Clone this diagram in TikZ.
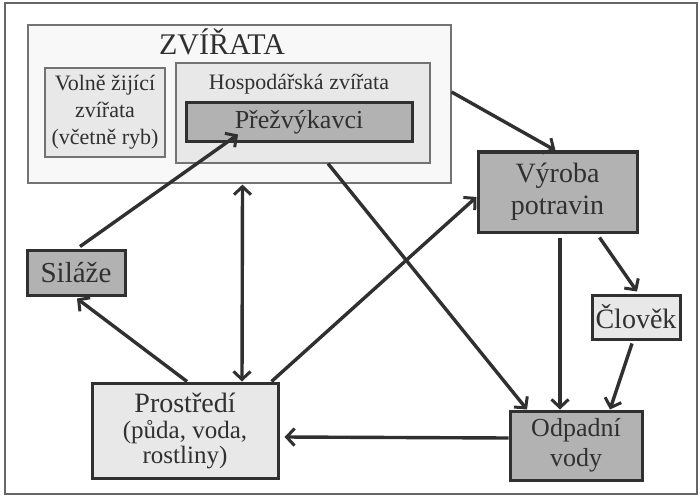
\documentclass[tikz,border=0pt]{standalone}
\usepackage{fontspec}
\setmainfont{Liberation Serif}
\usetikzlibrary{arrows.meta}
\definecolor{ink}{HTML}{303030}
\definecolor{dark}{HTML}{B2B2B2}
\definecolor{light}{HTML}{E8E8E8}
\definecolor{pale}{HTML}{F8F8F8}
\tikzset{
  fs/.style={font=\fontsize{#1}{#1}\selectfont},
  thinbox/.style={draw=black!55, line width=1.2pt, inner sep=0pt},
  boldbox/.style={draw=ink, line width=3pt, inner sep=0pt, align=center, text=ink},
  arr/.style={draw=ink, line width=3.4pt, -{Straight Barb[length=8pt,width=17pt,line width=3pt]}},
  darr/.style={draw=ink, line width=3.4pt, {Straight Barb[length=8pt,width=17pt,line width=3pt]}-{Straight Barb[length=8pt,width=17pt,line width=3pt]}}
}
\begin{document}
\begin{tikzpicture}[x=1pt,y=-1pt]
\useasboundingbox (0,0) rectangle (700,497);
\fill[white] (0,0) rectangle (700,497);
\draw[black!60, line width=1.4pt] (5,3) rectangle (697,494);

% ZVIRATA group
\node[thinbox, fill=pale, minimum width=423pt, minimum height=158pt] (zv) at (239.5,104) {};
\node[anchor=base, fs=30, text=ink] (zvt) at (222,55) {ZVÍŘATA};
\node[thinbox, fill=light, minimum width=120pt, minimum height=89pt] (vo) at (105,112.5) {};
\node[text=ink, align=center, inner sep=0pt, font=\fontsize{22}{27}\selectfont] (vot) at (105,112) {Volně žijící\\zvířata\\(včetně ryb)};
\node[thinbox, fill=light, minimum width=254pt, minimum height=100pt] (ho) at (303,113) {};
\node[anchor=base, fs=22, text=ink] (hot) at (299,90) {Hospodářská zvířata};
\node[boldbox, fill=dark, minimum width=226pt, minimum height=39pt, fs=26] (pr) at (299,122.5) {Přežvýkavci};

% other nodes
\node[boldbox, fill=light, minimum width=186pt, minimum height=95pt] (pro) at (185,430.5) {};
\node[text=ink, align=center, inner sep=0pt, font=\fontsize{25}{25.5}\selectfont] (prot) at (185,431) {{\fontsize{28}{28}\selectfont Prostředí}\\(půda, voda,\\rostliny)};
\node[boldbox, fill=dark, minimum width=98pt, minimum height=45pt, fs=29] (si) at (76,272.5) {Siláže};
\node[boldbox, fill=dark, minimum width=159pt, minimum height=80pt, font=\fontsize{28}{32}\selectfont] (vy) at (557.5,192) {Výroba\\potravin};
\node[boldbox, fill=light, minimum width=88pt, minimum height=44pt, fs=28] (cl) at (636,317) {Člověk};
\node[boldbox, fill=dark, minimum width=132pt, minimum height=69pt, font=\fontsize{26}{30}\selectfont] (od) at (576,445.5) {Odpadní\\vody};

% arrows
\draw[arr] ([yshift=12pt]zv.east) -- ([xshift=-2pt]vy.north);
\draw[arr] ([xshift=4pt,yshift=2pt]si.north) -- ([xshift=-61pt,yshift=9pt]pr.south);
\draw[darr] ([xshift=3pt,yshift=-1pt]zv.south) -- ([xshift=57pt]pro.north);
\draw[arr] ([xshift=2pt]pro.north) -- ([xshift=1pt,yshift=-2pt]si.south);
\draw[arr] ([xshift=-8pt]pro.north east) -- ([yshift=-5pt]vy.west);
\draw[arr] ([xshift=25pt]ho.south) -- ([xshift=-49pt]od.north);
\draw[arr] ([xshift=2.5pt,yshift=-4pt]vy.south) -- ([xshift=-16pt]od.north);
\draw[arr] ([xshift=42pt,yshift=-4pt]vy.south) -- ([xshift=1pt,yshift=2pt]cl.north);
\draw[arr] ([xshift=-4pt,yshift=-3pt]cl.south) -- ([xshift=34pt]od.north);
\draw[arr] ([yshift=7.5pt]od.west) -- ([xshift=5pt,yshift=-6.5pt]pro.east);
\end{tikzpicture}
\end{document}
